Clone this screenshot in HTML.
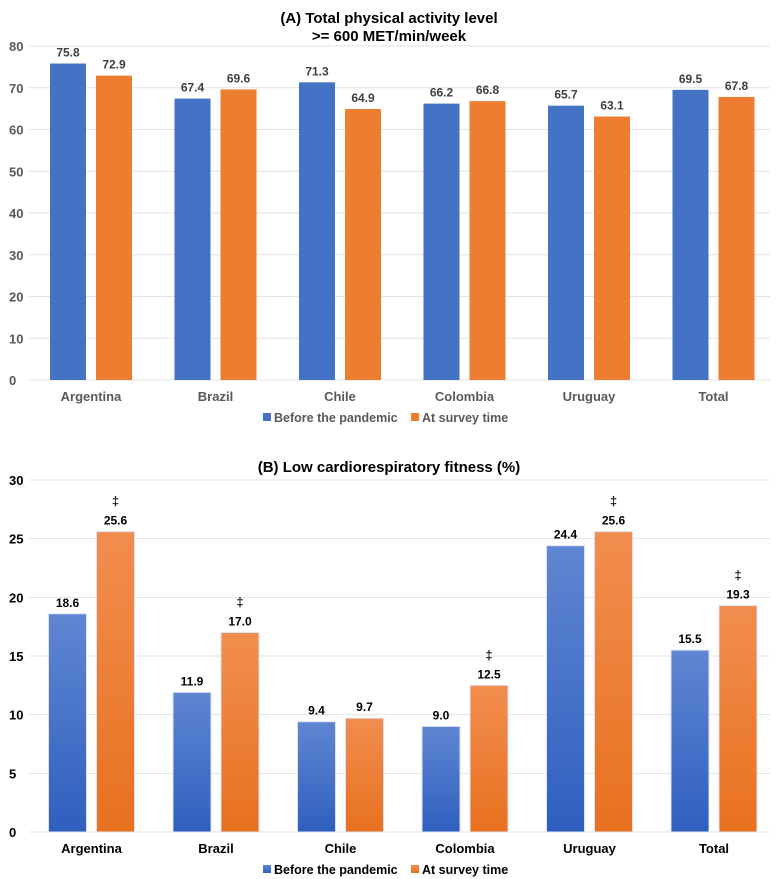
<!DOCTYPE html>
<html><head><meta charset="utf-8"><style>
body{margin:0;background:#fff;}
svg{display:block;font-family:"Liberation Sans",Arial,sans-serif;font-weight:bold;}
</style></head><body>
<svg id="chart" width="778" height="879" viewBox="0 0 778 879">
<defs>
<linearGradient id="gb" x1="0" y1="0" x2="0" y2="1"><stop offset="0" stop-color="#5f86d2"/><stop offset="1" stop-color="#2f5fbf"/></linearGradient>
<linearGradient id="go" x1="0" y1="0" x2="0" y2="1"><stop offset="0" stop-color="#f28d4f"/><stop offset="1" stop-color="#e8711f"/></linearGradient>
</defs>
<text x="389" y="23" text-anchor="middle" font-size="15" fill="#000">(A) Total physical activity level</text>
<text x="389" y="41" text-anchor="middle" font-size="15" fill="#000">&gt;= 600 MET/min/week</text>
<text x="389" y="472" text-anchor="middle" font-size="15" fill="#000">(B) Low cardiorespiratory fitness (%)</text>
<g id="ga"></g><g id="gbb"></g>
</svg>
<script>
const categories=["Argentina","Brazil","Chile","Colombia","Uruguay","Total"];
const aBefore=[75.8,67.4,71.3,66.2,65.7,69.5];
const aSurvey=[72.9,69.6,64.9,66.8,63.1,67.8];
const aTicks=[0,10,20,30,40,50,60,70,80];
const bBefore=[18.6,11.9,9.4,9.0,24.4,15.5];
const bSurvey=[25.6,17.0,9.7,12.5,25.6,19.3];
const bMarks=[true,true,false,true,true,true];
const bTicks=[0,5,10,15,20,25,30];
const NS="http://www.w3.org/2000/svg";
function mk(p,tag,attrs,txt){const e=document.createElementNS(NS,tag);for(const k in attrs)e.setAttribute(k,attrs[k]);if(txt!==undefined)e.textContent=txt;p.appendChild(e);return e;}
function draw(g,cfg){
  const y=v=>cfg.y0-(v-0)*(cfg.y0-cfg.yTop)/cfg.max;
  const xc=i=>cfg.x0+i*124.5;
  cfg.ticks.forEach(t=>{
    const l=mk(g,'line',{x1:29,x2:770,y1:y(t),y2:y(t),stroke:'#e3e3e3','stroke-width':1});
    
    
    const tx=mk(g,'text',{x:9,y:y(t)+5,'font-size':13,fill:cfg.axisCol},String(t));
    
    
  });
  categories.forEach((c,i)=>{
    const cx=xc(i);
    [[cfg.b[i],cx-5-cfg.bw,cfg.fb],[cfg.s[i],cx+5,cfg.fs]].forEach((d,j)=>{
      const r=mk(g,'rect',{x:d[1],y:y(d[0]),width:cfg.bw,height:y(0)-y(d[0]),fill:d[2],stroke:cfg.stroke,'stroke-width':cfg.stroke==='none'?0:1});
      
      
      const t=mk(g,'text',{x:d[1]+cfg.bw/2,y:y(d[0])-7,'text-anchor':'middle','font-size':12,fill:cfg.valCol},d[0].toFixed(1));
      
      
      if(j&&cfg.marks&&cfg.marks[i]){
        const m=mk(g,'text',{x:d[1]+cfg.bw/2,y:y(d[0])-26,'text-anchor':'middle','font-size':13,fill:'#222'},'‡');
        
        
      }
    });
    const lb=mk(g,'text',{x:cx,y:cfg.y0+cfg.labOff,'text-anchor':'middle','font-size':13,fill:cfg.catCol},c);
    
    
  });
  const lx=263,ly=cfg.legY;
  const l1=mk(g,'rect',{x:lx,y:ly-9,width:8,height:8,fill:cfg.fb});
  
  
  const t1=mk(g,'text',{x:lx+11,y:ly,'font-size':12.5,fill:cfg.catCol},'Before the pandemic');
  
  
  const l2=mk(g,'rect',{x:lx+148,y:ly-9,width:8,height:8,fill:cfg.fs});
  
  
  const t2=mk(g,'text',{x:lx+159,y:ly,'font-size':12.5,fill:cfg.catCol},'At survey time');
  
  
}
draw(document.getElementById('ga'),{y0:380,yTop:46,max:80,ticks:aTicks,b:aBefore,s:aSurvey,x0:91,bw:36,fb:'#4472c4',fs:'#ed7d31',stroke:'none',axisCol:'#595959',valCol:'#404040',catCol:'#595959',labOff:21,legY:422});
draw(document.getElementById('gbb'),{y0:832,yTop:480,max:30,ticks:bTicks,b:bBefore,s:bSurvey,marks:bMarks,x0:91.5,bw:38,fb:'url(#gb)',fs:'url(#go)',stroke:'#dde3f0',axisCol:'#000',valCol:'#000',catCol:'#000',labOff:21,legY:874});
</script>
</body></html>
